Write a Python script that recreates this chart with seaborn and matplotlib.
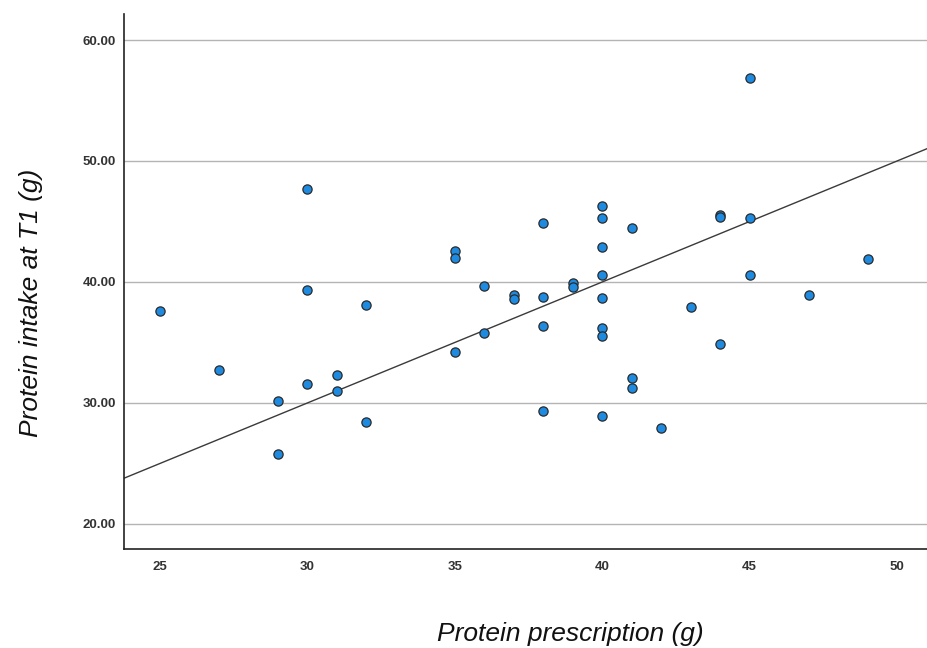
import numpy as np
import pandas as pd
import matplotlib
matplotlib.use('Agg')
import matplotlib.pyplot as plt
import seaborn as sns
from matplotlib.ticker import FormatStrFormatter

# values
prescription = [25, 27, 29, 29, 30, 30, 30, 31, 31, 32, 32,
                35, 35, 35, 36, 36, 37, 37, 38, 38, 38, 38, 39, 39,
                40, 40, 40, 40, 40, 40, 40, 40, 41, 41, 41, 42, 43,
                44, 44, 44, 45, 45, 45, 47, 49]
intake_t1 = [37.6, 32.7, 30.2, 25.8, 47.7, 39.3, 31.6, 32.3, 31.0, 38.1, 28.4,
             42.6, 42.0, 34.2, 39.7, 35.8, 38.9, 38.6, 44.9, 38.8, 36.4, 29.3, 39.9, 39.6,
             46.3, 45.3, 42.9, 40.6, 38.7, 36.2, 35.5, 28.9, 44.5, 32.1, 31.2, 27.9, 37.9,
             45.5, 45.4, 34.9, 56.9, 45.3, 40.6, 38.9, 41.9]
x_ticks = [25, 30, 35, 40, 45, 50]
y_ticks = [20, 30, 40, 50, 60]

df = pd.DataFrame({'Protein prescription (g)': prescription,
                   'Protein intake at T1 (g)': intake_t1})

sns.set_style('white')
plt.rcParams['font.family'] = ['Liberation Sans', 'DejaVu Sans']

fig = plt.figure(figsize=(9.28, 6.48), dpi=100)
ax = fig.add_axes([124 / 928, 99 / 648, 804 / 928, 535 / 648])

sns.scatterplot(x='Protein prescription (g)', y='Protein intake at T1 (g)', data=df,
                ax=ax, s=44, color='#1f8be0', edgecolor='#2a2a2a',
                linewidth=0.9, zorder=3)

# reference line: intake equal to prescription
ax.axline((30, 30), slope=1, color='#3a3a3a', linewidth=1.0, zorder=2)

ax.set_xlim(23.78, 51.05)
ax.set_ylim(17.93, 62.15)
ax.set_xticks(x_ticks)
ax.set_yticks(y_ticks)
ax.yaxis.set_major_formatter(FormatStrFormatter('%.2f'))
ax.tick_params(axis='both', length=0, labelsize=9.5, labelcolor='#333333')
ax.tick_params(axis='y', pad=6)
ax.tick_params(axis='x', pad=9)
for lbl in ax.get_xticklabels() + ax.get_yticklabels():
    lbl.set_fontweight('bold')

ax.grid(axis='y', color='#b4b4b4', linewidth=1.0)
ax.grid(axis='x', visible=False)
ax.set_axisbelow(True)

for side in ['top', 'right']:
    ax.spines[side].set_visible(False)
for side in ['left', 'bottom']:
    ax.spines[side].set_color('#222222')
    ax.spines[side].set_linewidth(1.2)

ax.set_xlabel('Protein prescription (g)', fontsize=19, style='italic', color='#111111')
ax.set_ylabel('Protein intake at T1 (g)', fontsize=19, style='italic', color='#111111')
ax.xaxis.set_label_coords((570 - 124) / 804, -(622 - 549) / 535)
ax.yaxis.set_label_coords(-(124 - 43) / 804, (549 - 303) / 535)

fig.savefig('out.png', dpi=100)
